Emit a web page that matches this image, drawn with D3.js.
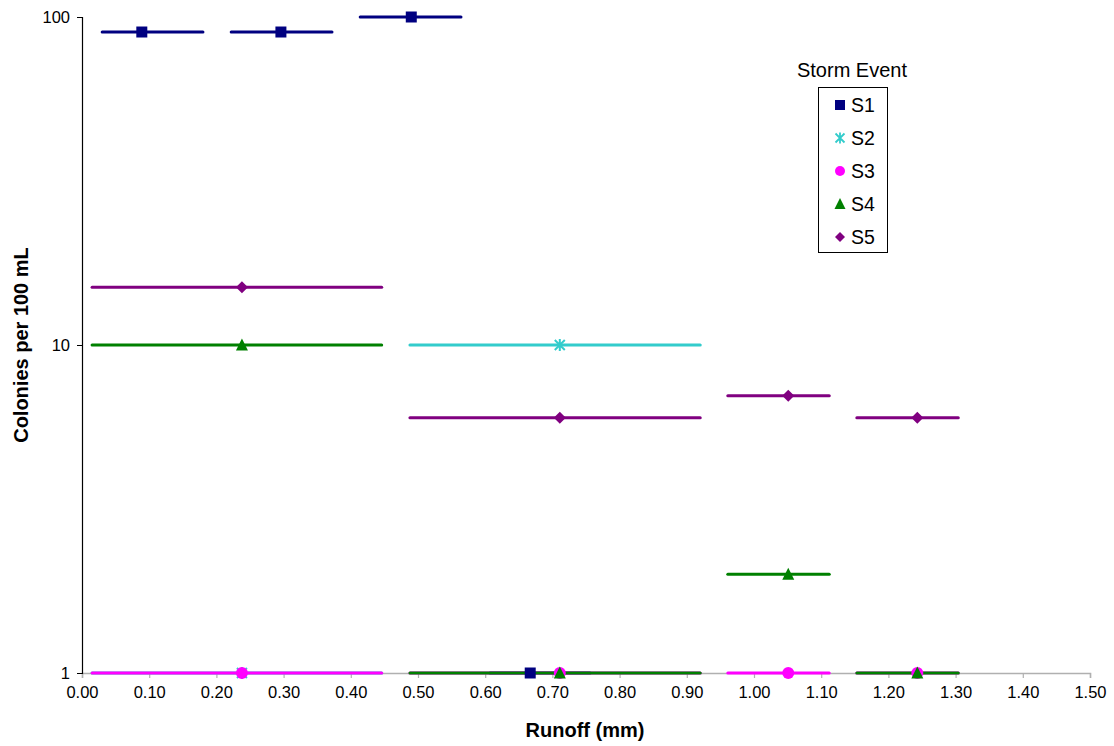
<!DOCTYPE html>
<html>
<head>
<meta charset="utf-8">
<script src="https://cdn.jsdelivr.net/npm/d3@7"></script>
<style>
  body { margin: 0; background: #fff; }
  svg { display: block; font-family: "Liberation Sans", Arial, sans-serif; }
</style>
</head>
<body>
<svg id="chart" width="1114" height="746"></svg>
<script>
// Storm events
const seriesNames = ["S1", "S2", "S3", "S4", "S5"];
const seriesColors = ["#000080", "#33CCCC", "#FF00FF", "#008000", "#800080"];
const seriesShapes = ["square", "asterisk", "circle", "triangle", "diamond"];

// Runoff (mm) at the sample, runoff range covered, colonies per 100 mL
const s1Runoff = [0.089, 0.296, 0.490, 0.667];
const s1Low    = [0.030, 0.222, 0.414, 0.607];
const s1High   = [0.180, 0.372, 0.564, 0.756];
const s1Count  = [90, 90, 100, 1];

const s2Runoff = [0.238, 0.711];
const s2Low    = [0.015, 0.488];
const s2High   = [0.446, 0.920];
const s2Count  = [1, 10];

const s3Runoff = [0.238, 0.711, 1.051, 1.243];
const s3Low    = [0.015, 0.488, 0.961, 1.153];
const s3High   = [0.446, 0.920, 1.112, 1.304];
const s3Count  = [1, 1, 1, 1];

const s4Runoff = [0.238, 0.711, 1.051, 1.243];
const s4Low    = [0.015, 0.488, 0.961, 1.153];
const s4High   = [0.446, 0.920, 1.112, 1.304];
const s4Count  = [10, 1, 2, 1];

const s5Runoff = [0.238, 0.711, 1.051, 1.243];
const s5Low    = [0.015, 0.488, 0.961, 1.153];
const s5High   = [0.446, 0.920, 1.112, 1.304];
const s5Count  = [15, 6, 7, 6];

const xTicks = [0, 0.1, 0.2, 0.3, 0.4, 0.5, 0.6, 0.7, 0.8, 0.9, 1.0, 1.1, 1.2, 1.3, 1.4, 1.5];
const yTicks = [1, 10, 100];

const runoffs = [s1Runoff, s2Runoff, s3Runoff, s4Runoff, s5Runoff];
const lows    = [s1Low, s2Low, s3Low, s4Low, s5Low];
const highs   = [s1High, s2High, s3High, s4High, s5High];
const counts  = [s1Count, s2Count, s3Count, s4Count, s5Count];

const series = seriesNames.map((name, i) => ({
  name, color: seriesColors[i], shape: seriesShapes[i],
  points: runoffs[i].map((x, j) => ({ x, lo: lows[i][j], hi: highs[i][j], y: counts[i][j] }))
}));

const svg = d3.select("#chart");
const plotLeft = 82, plotRight = 1090, plotTop = 17, plotBottom = 673;

const x = d3.scaleLinear().domain([0, 1.5]).range([plotLeft, plotRight]);
const y = d3.scaleLog().domain([1, 100]).range([plotBottom, plotTop]);

// x axis (grey baseline at y = 1)
const xAxis = svg.append("g")
  .attr("transform", `translate(0,${plotBottom})`)
  .call(d3.axisBottom(x).tickValues(xTicks).tickFormat(d3.format(".2f")).tickSize(5).tickPadding(8));
xAxis.select(".domain").attr("stroke", "#b0b0b0").attr("stroke-width", 1.5);
xAxis.selectAll(".tick line").attr("stroke", "#b0b0b0").attr("stroke-width", 1.2);
xAxis.selectAll(".tick text").attr("font-size", 16.5).attr("fill", "#000")
  .attr("font-family", "Liberation Sans, Arial, sans-serif");

// y axis (log)
const yAxis = svg.append("g")
  .attr("transform", `translate(${plotLeft},0)`)
  .call(d3.axisLeft(y).tickValues(yTicks).tickFormat(d3.format("d")).tickSize(5).tickPadding(7));
yAxis.select(".domain").attr("stroke", "#000").attr("stroke-width", 1.2);
yAxis.selectAll(".tick line").attr("stroke", "#000");
yAxis.selectAll(".tick text").attr("font-size", 16.5).attr("fill", "#000")
  .attr("font-family", "Liberation Sans, Arial, sans-serif");

// axis titles
svg.append("text")
  .attr("x", (plotLeft + plotRight) / 2 - 1).attr("y", 737)
  .attr("text-anchor", "middle").attr("font-weight", "bold").attr("font-size", 20)
  .text("Runoff (mm)");
svg.append("text")
  .attr("transform", `translate(28,${(plotTop + plotBottom) / 2}) rotate(-90)`)
  .attr("text-anchor", "middle").attr("font-weight", "bold").attr("font-size", 20)
  .text("Colonies per 100 mL");

// marker paths
function markerPath(shape, s) {
  const h = s / 2;
  switch (shape) {
    case "square": return `M${-h},${-h}H${h}V${h}H${-h}Z`;
    case "circle": return d3.symbol(d3.symbolCircle, Math.PI * h * h)();
    case "triangle": return `M0,${-h - 1}L${h + 0.5},${h}L${-h - 0.5},${h}Z`;
    case "diamond": return `M0,${-h}L${h},0L0,${h}L${-h},0Z`;
    case "asterisk": return `M${-h},${-h}L${h},${h}M${-h},${h}L${h},${-h}M0,${-h - 1}V${h + 1}`;
  }
}

// runoff range bars, all series beneath markers
const bars = svg.append("g");
series.forEach(s => {
  bars.selectAll(null).data(s.points).enter().append("line")
    .attr("x1", d => x(d.lo)).attr("x2", d => x(d.hi))
    .attr("y1", d => y(d.y)).attr("y2", d => y(d.y))
    .attr("stroke", s.color).attr("stroke-width", 3).attr("stroke-linecap", "round");
});

// markers
const marks = svg.append("g");
const markerSize = { square: 11, asterisk: 10, circle: 12, triangle: 11, diamond: 12 };
series.forEach(s => {
  const g = marks.selectAll(null).data(s.points).enter().append("path")
    .attr("transform", d => `translate(${x(d.x)},${y(d.y)})`)
    .attr("d", markerPath(s.shape, markerSize[s.shape]));
  if (s.shape === "asterisk") g.attr("fill", "none").attr("stroke", s.color).attr("stroke-width", 2);
  else g.attr("fill", s.color);
});

// legend
const lg = svg.append("g");
lg.append("text").attr("x", 852).attr("y", 77).attr("text-anchor", "middle")
  .attr("font-size", 20).text("Storm Event");
lg.append("rect").attr("x", 818.5).attr("y", 87.5).attr("width", 69).attr("height", 165)
  .attr("fill", "#fff").attr("stroke", "#000").attr("stroke-width", 1);
series.forEach((s, i) => {
  const cy = 105 + i * 33;
  const p = lg.append("path").attr("transform", `translate(840,${cy})`)
    .attr("d", markerPath(s.shape, s.shape === "asterisk" ? 9 : 10));
  if (s.shape === "asterisk") p.attr("fill", "none").attr("stroke", s.color).attr("stroke-width", 1.8);
  else p.attr("fill", s.color);
  lg.append("text").attr("x", 851).attr("y", cy + 7).attr("font-size", 19.5).text(s.name);
});
</script>
</body>
</html>
